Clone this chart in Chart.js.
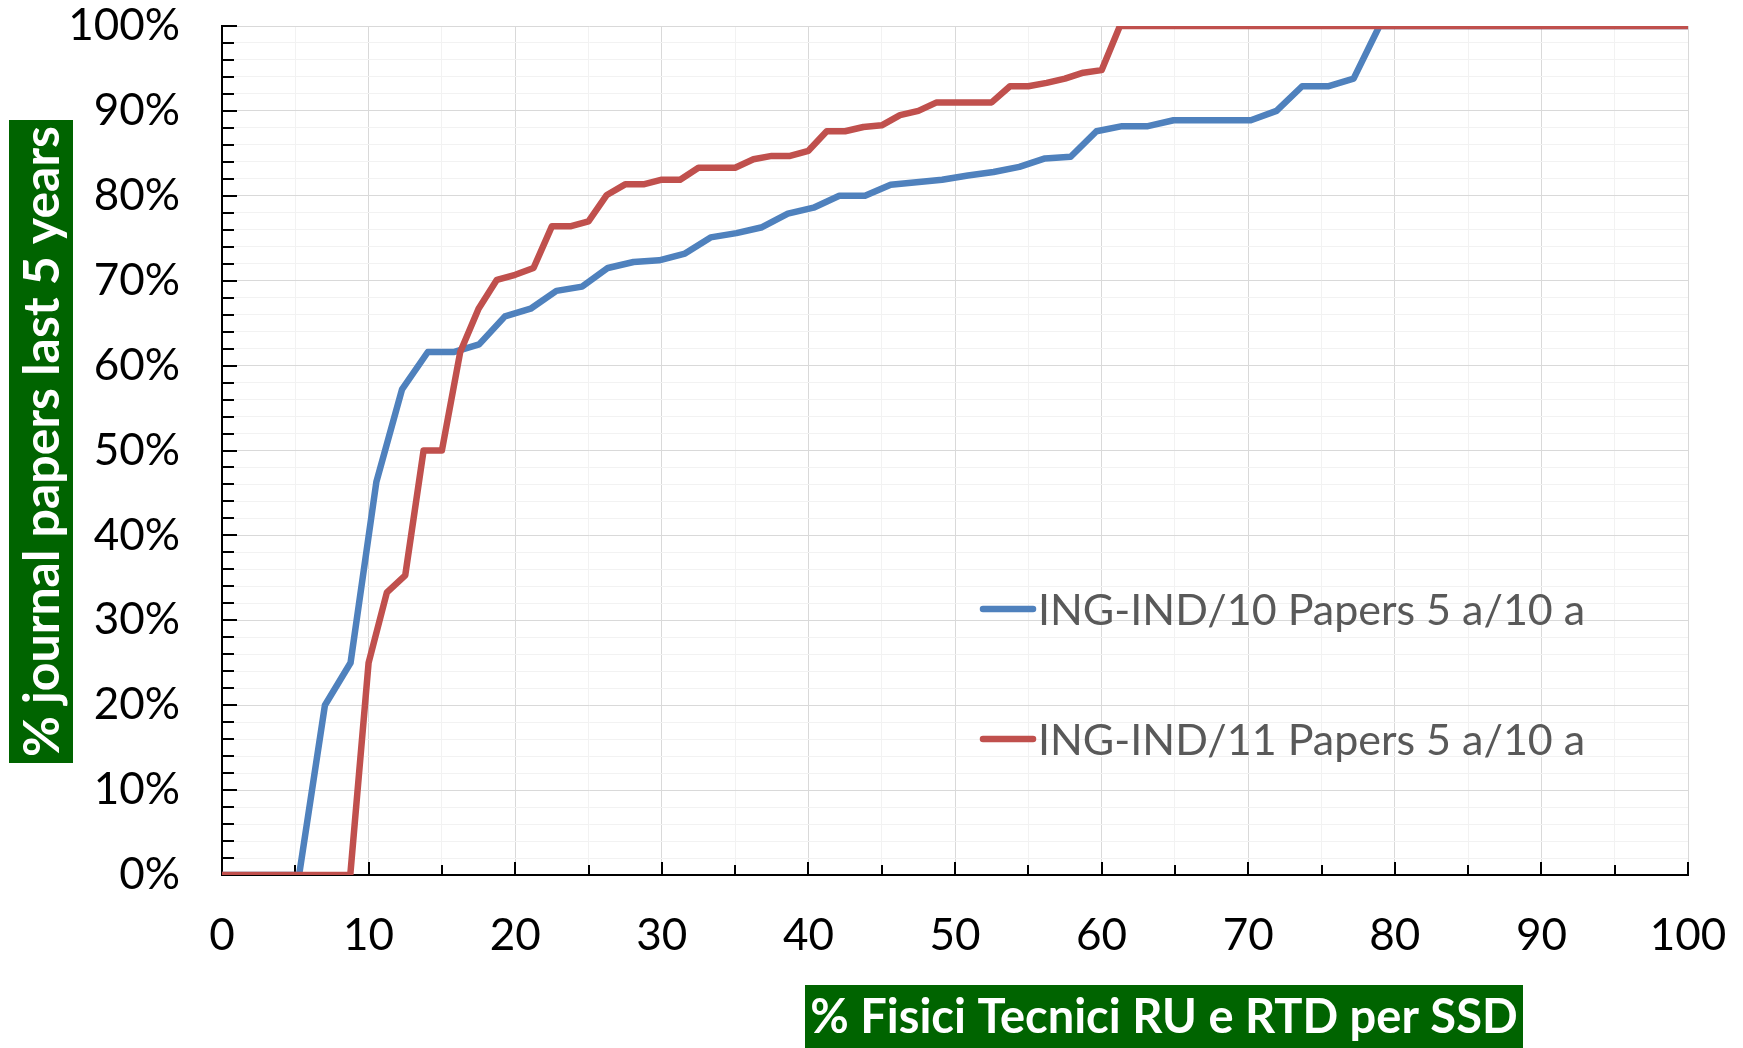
<!DOCTYPE html>
<html><head><meta charset="utf-8">
<script src="https://cdn.jsdelivr.net/npm/chart.js@4.4.1/dist/chart.umd.min.js"></script>
<style>html,body{margin:0;padding:0;background:#fff;}#wrap{width:1743px;height:1048px;position:relative}</style>
</head><body><div id="wrap"><canvas id="c" width="1743" height="1048"></canvas></div>
<script>
const seriesNames = ['ING-IND/10 Papers 5 a/10 a', 'ING-IND/11 Papers 5 a/10 a'];
const seriesColors = ['#4F81BD', '#C0504D'];

const blueX = [0, 5.26, 7.02, 8.77, 10.53, 12.28, 14.04, 15.79, 17.54, 19.30, 21.05, 22.81, 24.56, 26.32, 28.07, 29.82, 31.58, 33.33, 35.09, 36.84, 38.60, 40.35, 42.11, 43.86, 45.61, 47.37, 49.12, 50.88, 52.63, 54.39, 56.14, 57.89, 59.65, 61.40, 63.16, 64.91, 66.67, 68.42, 70.18, 71.93, 73.68, 75.44, 77.19, 78.95, 100];
const blueY = [0, 0, 20, 25, 46.3, 57.2, 61.6, 61.6, 62.5, 65.8, 66.7, 68.8, 69.3, 71.5, 72.2, 72.4, 73.2, 75.1, 75.6, 76.3, 77.9, 78.6, 80.0, 80.0, 81.3, 81.6, 81.9, 82.4, 82.8, 83.4, 84.4, 84.6, 87.6, 88.2, 88.2, 88.9, 88.9, 88.9, 88.9, 90.0, 92.9, 92.9, 93.8, 100, 100];

const redX = [0, 8.75, 10, 11.25, 12.5, 13.75, 15, 16.25, 17.5, 18.75, 20, 21.25, 22.5, 23.75, 25, 26.25, 27.5, 28.75, 30, 31.25, 32.5, 33.75, 35, 36.25, 37.5, 38.75, 40, 41.25, 42.5, 43.75, 45, 46.25, 47.5, 48.75, 50, 51.25, 52.5, 53.75, 55, 56.25, 57.5, 58.75, 60, 61.25, 100];
const redY = [0, 0, 25, 33.3, 35.3, 50, 50, 61.6, 66.7, 70.1, 70.7, 71.5, 76.4, 76.4, 77.0, 80.1, 81.35, 81.35, 81.9, 81.9, 83.3, 83.3, 83.3, 84.3, 84.7, 84.7, 85.3, 87.6, 87.6, 88.1, 88.3, 89.5, 90.0, 91.0, 91.0, 91.0, 91.0, 92.9, 92.9, 93.3, 93.8, 94.5, 94.8, 100, 100];

const xTickLabels = ['0', '10', '20', '30', '40', '50', '60', '70', '80', '90', '100'];
const yTickLabels = ['0%', '10%', '20%', '30%', '40%', '50%', '60%', '70%', '80%', '90%', '100%'];
const xAxisTitle = '% Fisici Tecnici RU e RTD per SSD';
const yAxisTitle = '% journal papers last 5 years';

function pts(xs, ys) { return xs.map((x, i) => ({ x: x, y: ys[i] })); }

const FONT = 'Lato, "Open Sans", sans-serif';
const GREEN = '#006400';

const tickMarks = {
  id: 'tickMarks',
  beforeDatasetsDraw(chart) {
    const { ctx, scales: { x, y }, chartArea: a } = chart;
    ctx.save();
    ctx.strokeStyle = '#000';
    ctx.lineWidth = 2;
    x.ticks.forEach(t => {
      const px = Math.round(x.getPixelForValue(t.value));
      const len = Math.round(t.value) % 10 === 0 ? 13 : 10;
      ctx.beginPath(); ctx.moveTo(px, a.bottom); ctx.lineTo(px, a.bottom - len); ctx.stroke();
    });
    y.ticks.forEach(t => {
      const py = Math.round(y.getPixelForValue(t.value));
      const len = Math.round(t.value) % 10 === 0 ? 15 : 12;
      ctx.beginPath(); ctx.moveTo(a.left, py); ctx.lineTo(a.left + len, py); ctx.stroke();
    });
    ctx.restore();
  }
};

const insideLegend = {
  id: 'insideLegend',
  afterDatasetsDraw(chart) {
    const ctx = chart.ctx;
    const rows = [609, 739];
    ctx.save();
    chart.data.datasets.forEach((ds, i) => {
      const yy = rows[i];
      ctx.strokeStyle = ds.borderColor;
      ctx.lineWidth = 6.5;
      ctx.lineCap = 'round';
      ctx.beginPath(); ctx.moveTo(983, yy); ctx.lineTo(1033, yy); ctx.stroke();
      ctx.fillStyle = '#595959';
      ctx.font = '43px ' + FONT;
      ctx.textBaseline = 'middle';
      ctx.textAlign = 'left';
      ctx.fillText(ds.label, 1038, yy + 2);
    });
    ctx.restore();
  }
};

const axisTitles = {
  id: 'axisTitles',
  afterDraw(chart) {
    const ctx = chart.ctx;
    ctx.save();
    ctx.fillStyle = GREEN;
    ctx.fillRect(805, 985, 718, 63);
    ctx.fillStyle = '#fff';
    ctx.font = 'bold 47px ' + FONT;
    ctx.textAlign = 'center';
    ctx.textBaseline = 'middle';
    ctx.fillText(xAxisTitle, 1164, 1018);
    ctx.fillStyle = GREEN;
    ctx.fillRect(9, 120, 64, 643);
    ctx.translate(43, 441.5);
    ctx.rotate(-Math.PI / 2);
    ctx.fillStyle = '#fff';
    ctx.font = 'bold 50px ' + FONT;
    ctx.fillText(yAxisTitle, 0, 0);
    ctx.restore();
  }
};

new Chart(document.getElementById('c'), {
  type: 'scatter',
  data: {
    datasets: [
      { label: seriesNames[0], data: pts(blueX, blueY), order: 1, showLine: true, borderColor: seriesColors[0], backgroundColor: seriesColors[0], borderWidth: 6.5, pointRadius: 0, tension: 0, borderJoinStyle: 'round' },
      { label: seriesNames[1], data: pts(redX, redY), order: 0, showLine: true, borderColor: seriesColors[1], backgroundColor: seriesColors[1], borderWidth: 6.5, pointRadius: 0, tension: 0, borderJoinStyle: 'round' }
    ]
  },
  options: {
    responsive: false,
    animation: false,
    devicePixelRatio: 1,
    layout: { padding: { top: 26, right: 55, left: 0, bottom: 0 } },
    plugins: { legend: { display: false }, tooltip: { enabled: false } },
    scales: {
      x: {
        type: 'linear', min: 0, max: 100,
        afterFit: s => { s.height = 173; s.paddingLeft = 0; s.paddingRight = 0; },
        ticks: {
          stepSize: 5, autoSkip: false, maxRotation: 0, padding: 34, color: '#000',
          font: { family: FONT, size: 44 },
          callback: v => (Math.round(v) % 10 === 0 ? xTickLabels[Math.round(v) / 10] : '')
        },
        grid: {
          drawTicks: false, lineWidth: 1,
          color: c => (c.tick && Math.round(c.tick.value) % 10 === 0 ? '#D9D9D9' : '#F2F2F2')
        },
        border: { color: '#000', width: 2 }
      },
      y: {
        type: 'linear', min: 0, max: 100,
        afterFit: s => { s.width = 222; s.paddingTop = 0; s.paddingBottom = 0; },
        ticks: {
          stepSize: 2, autoSkip: false, padding: 42, color: '#000',
          font: { family: FONT, size: 44 },
          callback: v => (Math.round(v) % 10 === 0 ? yTickLabels[Math.round(v) / 10] : '')
        },
        grid: {
          drawTicks: false, lineWidth: 1,
          color: c => (c.tick && Math.round(c.tick.value) % 10 === 0 ? '#D9D9D9' : '#F2F2F2')
        },
        border: { color: '#000', width: 2 }
      }
    }
  },
  plugins: [tickMarks, insideLegend, axisTitles]
});
</script></body></html>
